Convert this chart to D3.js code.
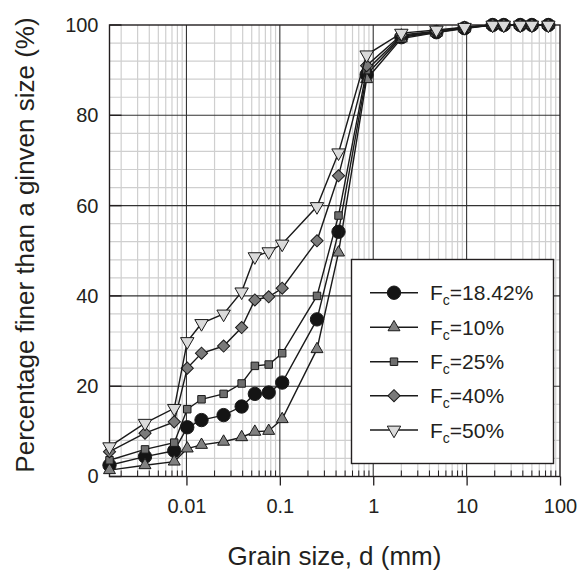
<!DOCTYPE html>
<html><head><meta charset="utf-8">
<script src="https://cdn.jsdelivr.net/npm/d3@7"></script>
<style>
html,body{margin:0;padding:0;background:#fff;}
text{font-family:"Liberation Sans",Arial,sans-serif;fill:#231f20;}
</style></head>
<body><svg id="c" width="581" height="573"></svg>
<script>
// ---- data ----
const grainSize = [0.0015, 0.0036, 0.0074, 0.0102, 0.0145, 0.025, 0.039, 0.054, 0.076, 0.106, 0.25, 0.425, 0.85, 2, 4.75, 9.5, 19, 25, 37.5, 50, 75];
const seriesNames = ["18.42%", "10%", "25%", "40%", "50%"];
const fc18 = [2.5, 4.4, 5.7, 10.9, 12.5, 13.6, 15.5, 18.3, 18.6, 20.8, 34.8, 54.2, 89.0, 97.3, 98.4, 99.3, 100, 100, 100, 100, 100];
const fc10 = [1.4, 2.5, 3.3, 6.2, 7.0, 7.7, 8.7, 9.9, 10.1, 12.7, 28.2, 49.6, 88.0, 97.0, 98.3, 99.2, 100, 100, 100, 100, 100];
const fc25 = [3.6, 6.0, 7.5, 14.9, 17.1, 18.3, 20.6, 24.5, 24.8, 27.3, 40.0, 57.8, 90.0, 97.5, 98.5, 99.4, 100, 100, 100, 100, 100];
const fc40 = [5.5, 9.6, 12.1, 24.0, 27.3, 28.9, 33.0, 39.1, 39.8, 41.7, 52.2, 66.6, 91.0, 97.8, 98.6, 99.5, 100, 100, 100, 100, 100];
const fc50 = [6.6, 11.8, 15.1, 29.9, 33.9, 36.0, 40.9, 48.7, 49.8, 51.5, 59.8, 71.7, 93.4, 98.2, 98.9, 99.5, 100, 100, 100, 100, 100];
const xTickValues = [0.01, 0.1, 1, 10, 100];
const xTickLabels = ["0.01", "0.1", "1", "10", "100"];
const yTickValues = [0, 20, 40, 60, 80, 100];

const seriesData = [fc18, fc10, fc25, fc40, fc50];
const styles = [
  {type: d3.symbolCircle, size: 140, rot: 0, fill: "#141414"},
  {type: d3.symbolTriangle, size: 62, rot: 0, fill: "#808080"},
  {type: d3.symbolSquare, size: 56, rot: 0, fill: "#6e6e6e"},
  {type: d3.symbolSquare, size: 74, rot: 45, fill: "#7a7a7a"},
  {type: d3.symbolTriangle, size: 78, rot: 180, fill: "#dadada"}
];

const svg = d3.select("#c");
const L = 109.5, R = 560, T = 25, B = 476.5;
const x = d3.scaleLog().domain([0.0015, 100]).range([L, R]);
const y = d3.scaleLinear().domain([0, 100]).range([B, T]);

// minor grid
const minorX = [];
for (let e = -3; e <= 1; e++) for (let m = 2; m <= 9; m++) {
  const v = m * Math.pow(10, e);
  if (v > 0.0015 && v < 100) minorX.push(v);
}
const minorY = d3.range(0, 101, 4).filter(v => v % 20 !== 0);
const g = svg.append("g");
g.selectAll("line.mx").data(minorX).enter().append("line")
  .attr("x1", d => x(d)).attr("x2", d => x(d)).attr("y1", T).attr("y2", B)
  .attr("stroke", "#cfcfcf").attr("stroke-width", 1.2);
g.selectAll("line.my").data(minorY).enter().append("line")
  .attr("x1", L).attr("x2", R).attr("y1", d => y(d)).attr("y2", d => y(d))
  .attr("stroke", "#cfcfcf").attr("stroke-width", 1.2);
// major grid
g.selectAll("line.Mx").data(xTickValues.slice(0, 4)).enter().append("line")
  .attr("x1", d => x(d)).attr("x2", d => x(d)).attr("y1", T).attr("y2", B)
  .attr("stroke", "#333").attr("stroke-width", 1.1);
g.selectAll("line.My").data(yTickValues.slice(1, 5)).enter().append("line")
  .attr("x1", L).attr("x2", R).attr("y1", d => y(d)).attr("y2", d => y(d))
  .attr("stroke", "#333").attr("stroke-width", 1.1);

// axes
const xAxis = d3.axisBottom(x).tickValues(xTickValues).tickFormat((d, i) => xTickLabels[i]).tickSize(9).tickPadding(13);
const xa = svg.append("g").attr("transform", `translate(0,${B})`).call(xAxis);
xa.select(".domain").remove();
xa.selectAll(".tick line").attr("stroke", "#231f20").attr("stroke-width", 1.3);
xa.selectAll("text").attr("font-size", 20).style("font-family", "Liberation Sans, Arial, sans-serif").attr("fill", "#231f20");
// minor ticks on x (inward)
svg.append("g").selectAll("line").data(minorX).enter().append("line")
  .attr("x1", d => x(d)).attr("x2", d => x(d)).attr("y1", B).attr("y2", B - 6)
  .attr("stroke", "#231f20").attr("stroke-width", 1);

const yAxis = d3.axisLeft(y).tickValues(yTickValues).tickSize(0).tickPadding(11);
const ya = svg.append("g").attr("transform", `translate(${L},0)`).call(yAxis);
ya.select(".domain").remove();
ya.selectAll("text").attr("font-size", 20).style("font-family", "Liberation Sans, Arial, sans-serif").attr("fill", "#231f20");
svg.append("g").selectAll("line").data(yTickValues).enter().append("line")
  .attr("x1", L).attr("x2", L + 12).attr("y1", d => y(d)).attr("y2", d => y(d))
  .attr("stroke", "#231f20").attr("stroke-width", 1.4);

// frame
svg.append("rect").attr("x", L).attr("y", T).attr("width", R - L).attr("height", B - T)
  .attr("fill", "none").attr("stroke", "#231f20").attr("stroke-width", 1.4);

// series
const line = d3.line().x(d => x(d[0])).y(d => y(d[1]));
seriesData.forEach((vals, i) => {
  const pts = grainSize.map((d, j) => [d, vals[j]]);
  const s = styles[i];
  const sg = svg.append("g");
  sg.append("path").datum(pts).attr("d", line).attr("fill", "none")
    .attr("stroke", "#1a1a1a").attr("stroke-width", 1.4);
  sg.selectAll("path.m").data(pts).enter().append("path")
    .attr("d", d3.symbol().type(s.type).size(s.size))
    .attr("transform", d => `translate(${x(d[0])},${y(d[1])}) rotate(${s.rot})`)
    .attr("fill", s.fill).attr("stroke", "#1a1a1a").attr("stroke-width", 1);
});

// legend
const lg = svg.append("g");
lg.append("rect").attr("x", 351.5).attr("y", 259.5).attr("width", 202).attr("height", 204)
  .attr("fill", "#fff").attr("stroke", "#231f20").attr("stroke-width", 1.4);
const legY = [292.7, 327.3, 361.7, 395.7, 430];
seriesNames.forEach((name, i) => {
  const s = styles[i];
  const yy = legY[i];
  lg.append("line").attr("x1", 370).attr("x2", 418).attr("y1", yy).attr("y2", yy)
    .attr("stroke", "#1a1a1a").attr("stroke-width", 1.4);
  lg.append("path").attr("d", d3.symbol().type(s.type).size(s.size))
    .attr("transform", `translate(394,${yy}) rotate(${s.rot})`)
    .attr("fill", s.fill).attr("stroke", "#1a1a1a").attr("stroke-width", 1);
  const t = lg.append("text").attr("x", 430).attr("y", yy + 7.5).attr("font-size", 21);
  t.append("tspan").text("F");
  t.append("tspan").attr("font-size", 14).attr("dy", 5).text("c");
  t.append("tspan").attr("dy", -5).text("=" + name);
});

// axis titles
svg.append("text").attr("x", 334.5).attr("y", 565).attr("text-anchor", "middle")
  .attr("font-size", 26).text("Grain size, d (mm)");
svg.append("text").attr("transform", "translate(33.5,245) rotate(-90)").attr("text-anchor", "middle")
  .attr("font-size", 26).text("Percentage finer than a ginven size (%)");
</script></body></html>
